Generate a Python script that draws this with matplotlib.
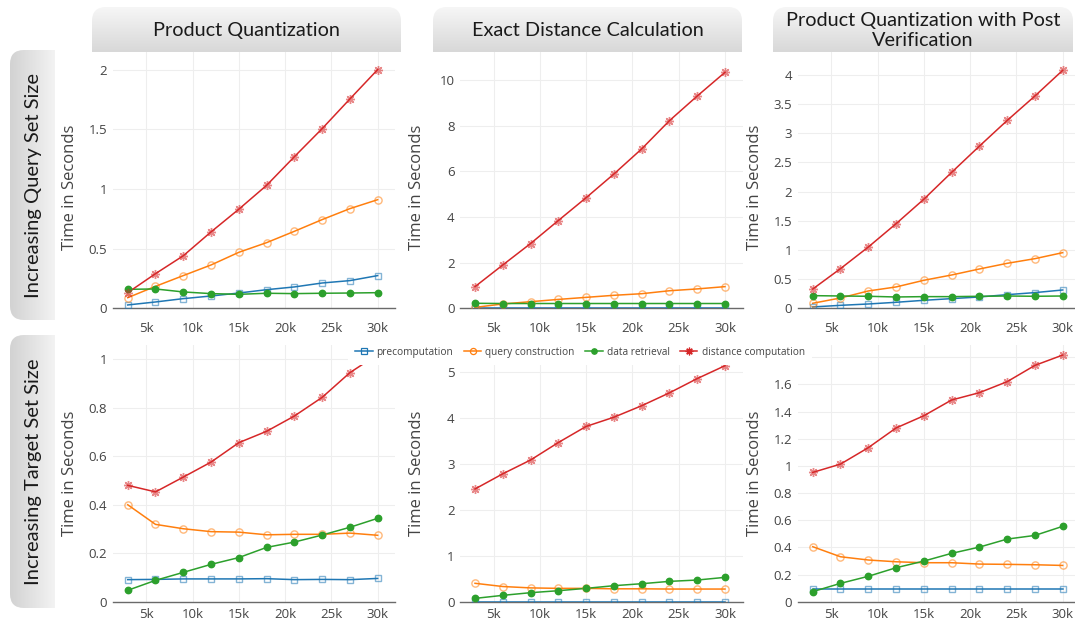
import numpy as np
import matplotlib
matplotlib.use("Agg")
import matplotlib.pyplot as plt
from matplotlib.patches import FancyBboxPatch
from matplotlib.colors import LinearSegmentedColormap
from matplotlib.lines import Line2D
from matplotlib.ticker import FuncFormatter

# ---------------- data ----------------
x_k = [3, 6, 9, 12, 15, 18, 21, 24, 27, 30]
x_ticks = [5, 10, 15, 20, 25, 30]
x_tick_labels = ["5k", "10k", "15k", "20k", "25k", "30k"]

series_names = ["precomputation", "query construction", "data retrieval", "distance computation"]
col_titles = ["Product Quantization", "Exact Distance Calculation",
              "Product Quantization with Post\nVerification"]
row_titles = ["Increasing Query Set Size", "Increasing Target Set Size"]
y_title = "Time in Seconds"

# Row 1: increasing query set size
pq_q_pre = [0.028, 0.053, 0.081, 0.103, 0.128, 0.156, 0.179, 0.212, 0.232, 0.274]
pq_q_qc = [0.089, 0.184, 0.274, 0.363, 0.469, 0.550, 0.645, 0.743, 0.835, 0.910]
pq_q_dr = [0.159, 0.162, 0.137, 0.123, 0.117, 0.126, 0.123, 0.126, 0.128, 0.131]
pq_q_dc = [0.131, 0.290, 0.440, 0.640, 0.830, 1.030, 1.270, 1.505, 1.754, 2.000]

ex_q_pre = [0.005, 0.005, 0.005, 0.005, 0.005, 0.005, 0.005, 0.005, 0.005, 0.005]
ex_q_qc = [0.04, 0.19, 0.29, 0.39, 0.48, 0.57, 0.64, 0.77, 0.85, 0.95]
ex_q_dr = [0.22, 0.21, 0.21, 0.21, 0.21, 0.21, 0.21, 0.21, 0.21, 0.21]
ex_q_dc = [0.95, 1.90, 2.84, 3.85, 4.85, 5.89, 6.99, 8.23, 9.31, 10.35]

pv_q_pre = [0.023, 0.051, 0.074, 0.103, 0.137, 0.166, 0.194, 0.234, 0.269, 0.314]
pv_q_qc = [0.086, 0.177, 0.297, 0.366, 0.480, 0.571, 0.674, 0.771, 0.851, 0.954]
pv_q_dr = [0.217, 0.211, 0.206, 0.194, 0.200, 0.200, 0.206, 0.211, 0.206, 0.211]
pv_q_dc = [0.33, 0.68, 1.05, 1.45, 1.87, 2.33, 2.78, 3.22, 3.64, 4.08]

# Row 2: increasing target set size
pq_t_pre = [0.091, 0.092, 0.094, 0.094, 0.094, 0.095, 0.091, 0.092, 0.091, 0.096]
pq_t_qc = [0.400, 0.319, 0.301, 0.289, 0.287, 0.276, 0.278, 0.278, 0.283, 0.274]
pq_t_dr = [0.047, 0.088, 0.121, 0.154, 0.182, 0.224, 0.246, 0.275, 0.307, 0.344]
pq_t_dc = [0.480, 0.453, 0.514, 0.576, 0.656, 0.703, 0.766, 0.843, 0.945, 1.020]

ex_t_pre = [0.003, 0.003, 0.003, 0.003, 0.003, 0.003, 0.003, 0.003, 0.003, 0.003]
ex_t_qc = [0.40, 0.33, 0.30, 0.29, 0.29, 0.28, 0.28, 0.275, 0.275, 0.275]
ex_t_dr = [0.072, 0.138, 0.196, 0.239, 0.290, 0.348, 0.391, 0.442, 0.471, 0.529]
ex_t_dc = [2.45, 2.78, 3.08, 3.46, 3.81, 4.01, 4.26, 4.54, 4.85, 5.13]

pv_t_pre = [0.093, 0.093, 0.093, 0.093, 0.093, 0.093, 0.093, 0.093, 0.093, 0.093]
pv_t_qc = [0.405, 0.331, 0.307, 0.294, 0.287, 0.287, 0.277, 0.275, 0.272, 0.267]
pv_t_dr = [0.074, 0.135, 0.187, 0.250, 0.299, 0.356, 0.402, 0.461, 0.488, 0.555]
pv_t_dc = [0.952, 1.013, 1.134, 1.279, 1.369, 1.485, 1.539, 1.620, 1.740, 1.816]

panels = [
    [(pq_q_pre, pq_q_qc, pq_q_dr, pq_q_dc), (ex_q_pre, ex_q_qc, ex_q_dr, ex_q_dc), (pv_q_pre, pv_q_qc, pv_q_dr, pv_q_dc)],
    [(pq_t_pre, pq_t_qc, pq_t_dr, pq_t_dc), (ex_t_pre, ex_t_qc, ex_t_dr, ex_t_dc), (pv_t_pre, pv_t_qc, pv_t_dr, pv_t_dc)],
]
# labelled y ticks and extra (unlabelled) grid lines hidden under the legend
y_ticks = [
    [[0, 0.5, 1, 1.5, 2], [0, 2, 4, 6, 8, 10], [0, 0.5, 1, 1.5, 2, 2.5, 3, 3.5, 4]],
    [[0, 0.2, 0.4, 0.6, 0.8, 1], [0, 1, 2, 3, 4, 5], [0, 0.2, 0.4, 0.6, 0.8, 1, 1.2, 1.4, 1.6]],
]
extra_grid = [[[], [], []], [[], [], [1.8]]]
y_max = [[2.147, 11.24, 4.394], [1.059, 5.58, 1.89]]

# ---------------- style ----------------
W, H = 1075, 621
colors = ["#1f77b4", "#ff7f0e", "#2ca02c", "#d62728"]
markers = ["s", "o", "o", (8, 2, 0)]
filled = [False, False, True, False]
msizes = [5.0, 5.2, 4.6, 6.5]
FONT = "Open Sans"
TXT = "#444444"

fig = plt.figure(figsize=(W / 100, H / 100), dpi=100)
fig.patch.set_facecolor("white")

col_left = [112.9, 460.2, 797.9]
ax_w = 282.4
row_bottom = [308.3, 601.7]
row_top = [52.0, 345.0]
xlim = (1.4, 31.9)

for r in range(2):
    for c in range(3):
        left = col_left[c] / W
        bottom = 1 - row_bottom[r] / H
        height = (row_bottom[r] - row_top[r]) / H
        ax = fig.add_axes([left, bottom, ax_w / W, height])
        ax.set_facecolor("none")
        ax.set_xlim(*xlim)
        ax.set_ylim(0, y_max[r][c])
        for s in ["top", "right", "left"]:
            ax.spines[s].set_visible(False)
        ax.spines["bottom"].set_color("#6a6a6a")
        ax.spines["bottom"].set_linewidth(1.0)
        ax.set_xticks(x_ticks)
        ax.set_xticklabels(x_tick_labels)
        ax.set_yticks(y_ticks[r][c])
        ax.yaxis.set_major_formatter(FuncFormatter(lambda v, p: "%g" % v))
        ax.tick_params(axis="both", length=0, labelsize=9.5, labelcolor=TXT)
        ax.tick_params(axis="y", pad=4)
        ax.tick_params(axis="x", pad=10 if r == 0 else 4.5)
        for lab in ax.get_xticklabels() + ax.get_yticklabels():
            lab.set_fontfamily(FONT)
        for yv in y_ticks[r][c][1:] + extra_grid[r][c]:
            ax.axhline(yv, color="#eeeeee", lw=0.8, zorder=0)
        for xv in x_ticks:
            ax.axvline(xv, color="#eeeeee", lw=0.8, zorder=0)
        ax.set_ylabel(y_title, fontsize=12, color=TXT, fontfamily=FONT)
        ax.yaxis.set_label_coords(-0.124, 0.474 if r == 0 else 0.5)

        for i, ys in enumerate(panels[r][c]):
            ax.plot(x_k, ys, color=colors[i], lw=1.1, zorder=3, clip_on=True)
            if filled[i]:
                ax.plot(x_k, ys, ls="none", marker=markers[i], ms=msizes[i],
                        mfc=colors[i], mec=colors[i], zorder=4)
            else:
                ax.plot(x_k, ys, ls="none", marker=markers[i], ms=msizes[i],
                        mfc="none", mec=colors[i], mew=1.0, alpha=0.55, zorder=4)

# legend
handles = []
for i in range(4):
    handles.append(Line2D([0], [0], color=colors[i], lw=1.1, marker=markers[i],
                          ms=msizes[i] * 0.85,
                          mfc=colors[i] if filled[i] else "none", mec=colors[i], mew=0.9))
leg = fig.legend(handles, series_names, loc="center", bbox_to_anchor=(580 / W, 1 - 352.5 / H),
                 ncol=4, frameon=True, fontsize=7.3, handlelength=1.7, handletextpad=0.4,
                 columnspacing=1.05, borderpad=0.7, borderaxespad=0)
leg.get_frame().set_facecolor("white")
leg.get_frame().set_edgecolor("none")
leg.get_frame().set_alpha(1)
for t in leg.get_texts():
    t.set_color(TXT)
    t.set_fontfamily(FONT)

# overlay with header boxes
ov = fig.add_axes([0, 0, 1, 1], zorder=10)
ov.set_facecolor("none")
ov.axis("off")


def grad_box(x0, y0, x1, y1, vertical, c0, c1, round_side, r=14):
    n = 256
    if vertical:
        arr = np.linspace(0, 1, n).reshape(n, 1)
    else:
        arr = np.linspace(0, 1, n).reshape(1, n)
    cmap = LinearSegmentedColormap.from_list("g", [c0, c1])
    im = ov.imshow(arr, cmap=cmap, extent=(x0, x1, y1, y0), aspect="auto",
                   interpolation="bilinear", zorder=1)
    if round_side == "top":
        patch = FancyBboxPatch((x0, y0), x1 - x0, (y1 - y0) + 2 * r,
                               boxstyle=f"round,pad=0,rounding_size={r}",
                               transform=ov.transData)
    else:
        patch = FancyBboxPatch((x0, y0), (x1 - x0) + 2 * r, y1 - y0,
                               boxstyle=f"round,pad=0,rounding_size={r}",
                               transform=ov.transData)
    im.set_clip_path(patch)


title_boxes = [(92, 7, 401, 52), (433, 7, 742, 52), (773, 7, 1073, 52)]
for (x0, y0, x1, y1), t in zip(title_boxes, col_titles):
    grad_box(x0, y0, x1, y1, True, "#f6f6f6", "#d8d8d8", "top")
    ov.text((x0 + x1) / 2, (y0 + y1) / 2 + 1, t, ha="center", va="center",
            fontsize=14.3, fontfamily="Lato", color="#1a1a1a", linespacing=1.2)

side_boxes = [(10, 50, 55, 320), (10, 335, 55, 608)]
for (x0, y0, x1, y1), t in zip(side_boxes, row_titles):
    grad_box(x0, y0, x1, y1, False, "#d2d2d2", "#f3f3f3", "left")
    ov.text((x0 + x1) / 2 + 1, (y0 + y1) / 2, t, ha="center", va="center",
            rotation=90, fontsize=14.5, fontfamily="Lato", color="#1a1a1a")

ov.set_xlim(0, W)
ov.set_ylim(H, 0)

fig.savefig("out.png", dpi=100)
